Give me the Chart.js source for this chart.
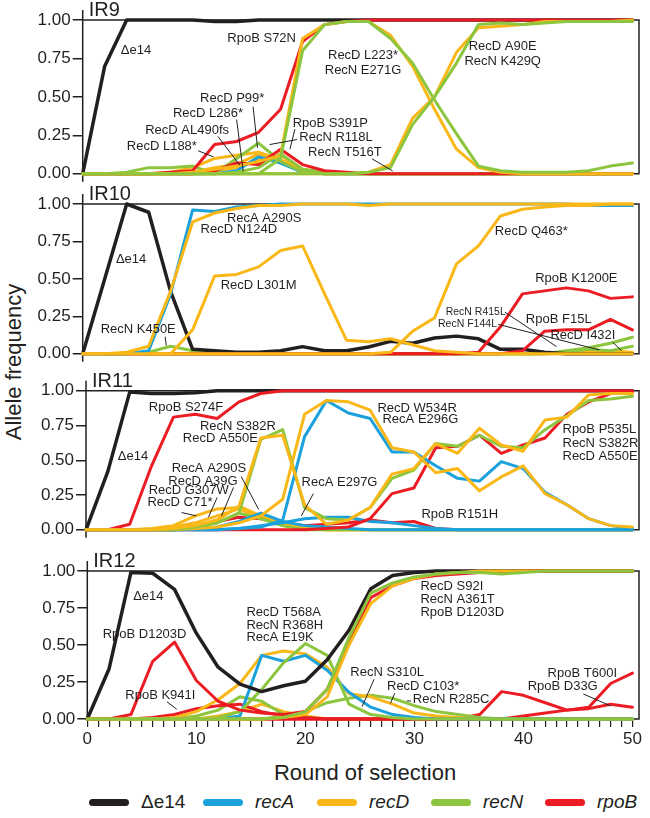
<!DOCTYPE html>
<html>
<head>
<meta charset="utf-8">
<script src="https://cdn.jsdelivr.net/npm/chart.js@4.4.1/dist/chart.umd.min.js"></script>
<style>
  html, body { margin: 0; padding: 0; background: #fff; }
  #fig { position: relative; width: 650px; height: 818px; font-family: "Liberation Sans", Arial, sans-serif; color: #231f20; overflow: hidden; }
  #ytitle { position: absolute; left: 14px; top: 362px; transform: translate(-50%, -50%) rotate(-90deg); font-size: 22px; white-space: nowrap; }
  #xtitle { position: absolute; left: 365px; top: 773px; transform: translate(-50%, -50%); font-size: 22px; white-space: nowrap; }
  #legend { position: absolute; left: 89px; top: 802px; transform: translateY(-50%); display: flex; align-items: center; font-size: 19px; white-space: nowrap; }
  #legend .sw { width: 40px; height: 7px; border-radius: 3.5px; margin-right: 12px; }
  #legend .lab { width: 62px; }
  #legend i { font-style: italic; }
</style>
</head>
<body>
<div id="fig">
  <div id="ytitle">Allele frequency</div>
  <div id="xtitle">Round of selection</div>
  <div id="legend"></div>
</div>
<script>
'use strict';

// Sampling rounds shared by every panel
const ROUNDS = [0, 2, 4, 6, 8, 10, 12, 14, 16, 18, 20, 22, 24, 26, 28, 30, 32, 34, 36, 38, 40, 42, 44, 46, 48, 50];

// ---- IR9 ----
const ir9_e14        = [0, 0.70, 1, 1, 1, 1, 0.99, 0.99, 1, 1, 1, 1, 1, 1, 1, 1, 1, 1, 1, 1, 1, 1, 1, 1, 1, 1];
const ir9_rpoB_S72N  = [0, 0, 0, 0, 0.01, 0.02, 0.19, 0.21, 0.27, 0.42, 0.86, 0.97, 0.99, 1, 1, 1, 1, 1, 1, 1, 1, 1, 1, 1, 1, 1];
const ir9_rpoB_S391P = [0, 0, 0, 0, 0, 0, 0.02, 0.07, 0.06, 0.16, 0.06, 0.02, 0.01, 0, 0, 0, 0, 0, 0, 0, 0, 0, 0, 0, 0, 0];
const ir9_recD_L188  = [0, 0, 0, 0, 0.01, 0.04, 0.10, 0.12, 0.14, 0.09, 0.03, 0.01, 0, 0, 0, 0, 0, 0, 0, 0, 0, 0, 0, 0, 0, 0];
const ir9_recD_AL490 = [0, 0, 0, 0, 0, 0.01, 0.04, 0.06, 0.13, 0.07, 0.02, 0, 0, 0, 0, 0, 0, 0, 0, 0, 0, 0, 0, 0, 0, 0];
const ir9_recD_L286  = [0, 0, 0, 0, 0, 0, 0.02, 0.04, 0.09, 0.12, 0.03, 0, 0, 0, 0, 0, 0, 0, 0, 0, 0, 0, 0, 0, 0, 0];
const ir9_recA_small = [0, 0, 0, 0, 0, 0, 0, 0.02, 0.11, 0.07, 0.01, 0, 0, 0, 0, 0, 0, 0, 0, 0, 0, 0, 0, 0, 0, 0];
const ir9_recN_R118L = [0, 0, 0.01, 0.04, 0.04, 0.05, 0, 0.10, 0.20, 0.08, 0.01, 0, 0, 0, 0, 0, 0, 0, 0, 0, 0, 0, 0, 0, 0, 0];
const ir9_recN_T516T = [0, 0, 0, 0, 0, 0, 0, 0.01, 0.04, 0.13, 0.03, 0.01, 0, 0, 0, 0, 0, 0, 0, 0, 0, 0, 0, 0, 0, 0];
const ir9_recD_L223  = [0, 0, 0, 0, 0, 0.01, 0.03, 0.05, 0.08, 0.12, 0.88, 0.97, 0.99, 0.99, 0.90, 0.70, 0.42, 0.16, 0.04, 0.01, 0, 0, 0, 0, 0, 0];
const ir9_recN_E271G = [0, 0, 0, 0, 0, 0, 0, 0, 0, 0.10, 0.80, 0.97, 0.99, 0.99, 0.88, 0.72, 0.48, 0.26, 0.05, 0.02, 0.01, 0.01, 0.01, 0.02, 0.05, 0.07];
const ir9_recD_A90E  = [0, 0, 0, 0, 0, 0, 0, 0, 0, 0, 0, 0, 0, 0.01, 0.06, 0.36, 0.50, 0.79, 0.95, 0.96, 0.97, 0.99, 0.99, 0.99, 0.99, 1];
const ir9_recN_K429Q = [0, 0, 0, 0, 0, 0, 0, 0, 0, 0, 0, 0, 0, 0.01, 0.04, 0.32, 0.50, 0.72, 0.97, 0.98, 0.97, 0.98, 0.99, 0.99, 0.99, 0.99];

// ---- IR10 ----
const ir10_e14         = [0, 0.50, 1, 0.945, 0.415, 0.03, 0.02, 0.01, 0.01, 0.02, 0.048, 0.02, 0.02, 0.045, 0.083, 0.07, 0.105, 0.118, 0.10, 0.03, 0.03, 0.01, 0, 0, 0, 0];
const ir10_recA_A290S  = [0, 0, 0, 0.02, 0.40, 0.96, 0.95, 0.98, 0.99, 1, 1, 1, 1, 1, 1, 1, 1, 1, 1, 1, 1, 1, 1, 0.99, 0.99, 0.99];
const ir10_recD_N124D  = [0, 0, 0.01, 0.05, 0.42, 0.88, 0.94, 0.97, 0.99, 0.99, 1, 1, 1, 0.99, 1, 1, 1, 1, 1, 1, 1, 1, 1, 1, 1, 1];
const ir10_recD_L301M  = [0, 0, 0, 0, 0, 0.16, 0.52, 0.53, 0.58, 0.69, 0.72, 0.40, 0.09, 0.08, 0.10, 0.06, 0.02, 0.01, 0, 0, 0, 0, 0, 0, 0, 0];
const ir10_recD_Q463   = [0, 0, 0, 0, 0, 0, 0, 0, 0, 0, 0, 0, 0, 0, 0.01, 0.15, 0.24, 0.60, 0.72, 0.92, 0.965, 0.98, 0.99, 0.99, 1, 1];
const ir10_recD_I432I  = [0, 0, 0, 0, 0, 0, 0, 0, 0, 0, 0, 0, 0, 0, 0, 0, 0, 0, 0, 0, 0, 0, 0.01, 0.01, 0.02, 0.01];
const ir10_rpoB_K1200E = [0, 0, 0, 0, 0, 0, 0, 0, 0, 0, 0, 0, 0, 0, 0, 0, 0, 0, 0.01, 0.18, 0.40, 0.42, 0.44, 0.42, 0.37, 0.38];
const ir10_rpoB_F15L   = [0, 0, 0, 0, 0, 0, 0, 0, 0, 0, 0, 0, 0, 0, 0, 0, 0, 0, 0, 0, 0.02, 0.15, 0.16, 0.16, 0.23, 0.16];
const ir10_recN_K450E  = [0, 0, 0, 0.01, 0.05, 0.02, 0.01, 0, 0, 0, 0, 0, 0, 0, 0, 0, 0, 0, 0, 0, 0, 0, 0, 0, 0, 0];
const ir10_recN_R415L  = [0, 0, 0, 0, 0, 0, 0, 0, 0, 0, 0, 0, 0, 0, 0, 0, 0, 0, 0, 0, 0, 0, 0.02, 0.04, 0.07, 0.11];
const ir10_recN_F144L  = [0, 0, 0, 0, 0, 0, 0, 0, 0, 0, 0, 0, 0, 0, 0, 0, 0, 0, 0, 0, 0, 0, 0.01, 0.03, 0.02, 0.05];

// ---- IR11 ----
const ir11_e14         = [0, 0.42, 0.99, 0.98, 0.98, 0.985, 1, 1, 1, 1, 1, 1, 1, 1, 1, 1, 1, 1, 1, 1, 1, 1, 1, 1, 1, 1];
const ir11_rpoB_S274F  = [0, 0, 0.04, 0.46, 0.81, 0.83, 0.80, 0.92, 0.98, 1, 1, 1, 1, 1, 1, 1, 1, 1, 1, 1, 1, 1, 1, 1, 1, 1];
const ir11_rpoB_R151H  = [0, 0, 0, 0, 0, 0.02, 0.06, 0.09, 0.08, 0.05, 0.03, 0.04, 0.05, 0.07, 0.05, 0.06, 0.01, 0, 0, 0, 0, 0, 0, 0, 0, 0];
const ir11_rpoB_P535L  = [0, 0, 0, 0, 0, 0, 0, 0, 0, 0, 0, 0.01, 0.02, 0.08, 0.26, 0.30, 0.59, 0.60, 0.68, 0.55, 0.61, 0.66, 0.83, 0.92, 0.98, 0.99];
const ir11_recD_C71    = [0, 0, 0, 0.01, 0.03, 0.10, 0.15, 0.16, 0.09, 0.04, 0.01, 0, 0, 0, 0, 0, 0, 0, 0, 0, 0, 0, 0, 0, 0, 0];
const ir11_recD_G307W  = [0, 0, 0, 0, 0.02, 0.05, 0.10, 0.15, 0.08, 0.03, 0.01, 0, 0, 0, 0, 0, 0, 0, 0, 0, 0, 0, 0, 0, 0, 0];
const ir11_recD_A39G   = [0, 0, 0, 0, 0.01, 0.03, 0.07, 0.17, 0.10, 0.04, 0.02, 0, 0, 0, 0, 0, 0, 0, 0, 0, 0, 0, 0, 0, 0, 0];
const ir11_recN_small  = [0, 0, 0, 0, 0, 0.02, 0.05, 0.12, 0.08, 0.03, 0, 0, 0, 0, 0, 0, 0, 0, 0, 0, 0, 0, 0, 0, 0, 0];
const ir11_recA_A290S  = [0, 0, 0, 0, 0, 0.01, 0.02, 0.06, 0.12, 0.06, 0.03, 0.02, 0.01, 0, 0, 0, 0, 0, 0, 0, 0, 0, 0, 0, 0, 0];
const ir11_recA_E297G  = [0, 0, 0, 0, 0, 0, 0, 0.01, 0.03, 0.05, 0.08, 0.09, 0.09, 0.06, 0.05, 0.03, 0.01, 0, 0, 0, 0, 0, 0, 0, 0, 0];
const ir11_recA_E296G  = [0, 0, 0, 0, 0, 0, 0, 0.01, 0.02, 0.07, 0.67, 0.93, 0.84, 0.80, 0.56, 0.56, 0.46, 0.37, 0.35, 0.49, 0.44, 0.27, 0.18, 0.08, 0.03, 0.01];
const ir11_recD_W534R  = [0, 0, 0, 0, 0, 0.01, 0.02, 0.05, 0.10, 0.22, 0.83, 0.93, 0.92, 0.86, 0.59, 0.56, 0.41, 0.44, 0.28, 0.38, 0.46, 0.26, 0.18, 0.08, 0.03, 0.02];
const ir11_recN_S382R  = [0, 0, 0, 0, 0, 0.02, 0.05, 0.12, 0.65, 0.72, 0.16, 0.08, 0.07, 0.16, 0.37, 0.43, 0.62, 0.60, 0.68, 0.60, 0.59, 0.72, 0.82, 0.93, 0.94, 0.96];
const ir11_recD_A550E  = [0, 0, 0, 0, 0.01, 0.03, 0.07, 0.17, 0.66, 0.68, 0.18, 0.04, 0.07, 0.16, 0.40, 0.44, 0.62, 0.55, 0.73, 0.61, 0.565, 0.79, 0.81, 0.97, 0.98, 0.98];

// ---- IR12 ----
const ir12_e14         = [0, 0.34, 0.99, 0.985, 0.876, 0.58, 0.35, 0.236, 0.185, 0.225, 0.255, 0.40, 0.60, 0.88, 0.97, 0.99, 1, 1, 1, 1, 1, 1, 1, 1, 1, 1];
const ir12_rpoB_D1203D = [0, 0, 0.03, 0.39, 0.52, 0.26, 0.12, 0.06, 0.04, 0.03, 0.05, 0.20, 0.52, 0.82, 0.90, 0.95, 0.97, 0.98, 0.99, 0.99, 1, 1, 1, 1, 1, 1];
const ir12_rpoB_K941I  = [0, 0, 0, 0.01, 0.03, 0.07, 0.09, 0.10, 0.05, 0.02, 0.01, 0, 0, 0, 0, 0, 0, 0, 0, 0, 0, 0, 0, 0, 0, 0];
const ir12_rpoB_T600I  = [0, 0, 0, 0, 0, 0, 0, 0, 0, 0, 0, 0, 0, 0, 0, 0, 0, 0, 0.03, 0.185, 0.16, 0.11, 0.06, 0.08, 0.24, 0.31];
const ir12_rpoB_D33G   = [0, 0, 0, 0, 0, 0, 0, 0, 0, 0, 0, 0, 0, 0, 0, 0, 0, 0, 0, 0, 0.02, 0.04, 0.06, 0.07, 0.10, 0.08];
const ir12_recD_small  = [0, 0, 0, 0, 0, 0, 0.02, 0.05, 0.10, 0.05, 0.02, 0, 0, 0, 0, 0, 0, 0, 0, 0, 0, 0, 0, 0, 0, 0];
const ir12_recN_small  = [0, 0, 0, 0, 0, 0.02, 0.06, 0.15, 0.12, 0.03, 0.01, 0, 0, 0, 0, 0, 0, 0, 0, 0, 0, 0, 0, 0, 0, 0];
const ir12_recD_T568A  = [0, 0, 0, 0, 0.01, 0.05, 0.13, 0.24, 0.43, 0.46, 0.44, 0.35, 0.17, 0.15, 0.10, 0.04, 0.02, 0.01, 0, 0, 0, 0, 0, 0, 0, 0];
const ir12_recA_E19K   = [0, 0, 0, 0, 0, 0, 0, 0.02, 0.43, 0.39, 0.43, 0.33, 0.18, 0.08, 0.03, 0.01, 0, 0, 0, 0, 0, 0, 0, 0, 0, 0];
const ir12_recN_R368H  = [0, 0, 0, 0, 0, 0, 0.01, 0.05, 0.20, 0.38, 0.51, 0.43, 0.10, 0.03, 0.01, 0, 0, 0, 0, 0, 0, 0, 0, 0, 0, 0];
const ir12_recN_S310L  = [0, 0, 0, 0, 0, 0, 0, 0, 0, 0.02, 0.05, 0.11, 0.14, 0.16, 0.14, 0.09, 0.05, 0.03, 0.01, 0, 0, 0, 0, 0, 0, 0];
const ir12_recD_S92I   = [0, 0, 0, 0, 0, 0, 0, 0, 0, 0.01, 0.03, 0.15, 0.50, 0.78, 0.90, 0.95, 0.98, 0.99, 1, 1, 1, 1, 1, 1, 1, 1];
const ir12_recN_A361T  = [0, 0, 0, 0, 0, 0, 0, 0, 0, 0.01, 0.05, 0.20, 0.55, 0.85, 0.92, 0.96, 0.98, 0.99, 0.99, 0.98, 0.99, 1, 1, 1, 1, 1];

const GENE_COLORS = { e14: '#231f20', recA: '#1ba1dc', recD: '#f9b818', recN: '#8cc63e', rpoB: '#ec1c24' };
const LEGEND = [['e14', 'Δe14', false], ['recA', 'recA', true], ['recD', 'recD', true], ['recN', 'recN', true], ['rpoB', 'rpoB', true]];
const INK = '#231f20';
const FONT = '"Liberation Sans", Arial, sans-serif';
const X_MAX = 50.6;

// Panels: series listed in paint order (first = bottom)
const PANELS = [
  {
    title: 'IR9', top: 0, height: 186, padTop: 20, padBottom: 11.5, left: 82.7,
    series: [
      ['recD', ir9_recD_L188], ['recD', ir9_recD_AL490], ['recD', ir9_recD_L286], ['recA', ir9_recA_small],
      ['recN', ir9_recN_R118L], ['recN', ir9_recN_T516T], ['rpoB', ir9_rpoB_S391P],
      ['e14', ir9_e14], ['rpoB', ir9_rpoB_S72N],
      ['recD', ir9_recD_L223], ['recN', ir9_recN_E271G], ['recD', ir9_recD_A90E], ['recN', ir9_recN_K429Q]
    ],
    notes: [
      { t: ['Δe14'], r: 4.85, f: 0.805 },
      { t: ['RpoB S72N'], r: 19.4, f: 0.88, a: 'right' },
      { t: ['RecD L223*', 'RecN E271G'], r: 25.5, f: 0.77, lh: 15 },
      { t: ['RecD A90E', 'RecN K429Q'], r: 38.2, f: 0.827, lh: 14.5 },
      { t: ['RecD P99*'], r: 13.6, f: 0.49 },
      { t: ['RecD L286*'], r: 11.4, f: 0.39 },
      { t: ['RecD AL490fs'], r: 9.5, f: 0.283 },
      { t: ['RecD L188*'], r: 7.2, f: 0.18 },
      { t: ['RpoB S391P'], r: 19.1, f: 0.33, a: 'left' },
      { t: ['RecN R118L'], r: 19.7, f: 0.234, a: 'left' },
      { t: ['RecN T516T'], r: 20.5, f: 0.141, a: 'left' }
    ],
    leaders: [[10.5, 0.15, 11.9, 0.11], [12.3, 0.243, 14.3, 0.055], [14.0, 0.353, 14.6, 0.016], [15.5, 0.436, 15.9, 0.17],
              [19.3, 0.29, 18.85, 0.16], [19.5, 0.223, 17.0, 0.19], [26.3, 0.098, 28.2, 0.018]]
  },
  {
    title: 'IR10', top: 186, height: 180, padTop: 18, padBottom: 9.3, left: 82.7,
    series: [
      ['recN', ir10_recN_K450E], ['recD', ir10_recD_I432I], ['recN', ir10_recN_F144L], ['recN', ir10_recN_R415L],
      ['e14', ir10_e14], ['rpoB', ir10_rpoB_F15L], ['rpoB', ir10_rpoB_K1200E],
      ['recD', ir10_recD_L301M], ['recA', ir10_recA_A290S], ['recD', ir10_recD_N124D], ['recD', ir10_recD_Q463]
    ],
    notes: [
      { t: ['Δe14'], r: 4.4, f: 0.633 },
      { t: ['RecA A290S'], r: 16.5, f: 0.906 },
      { t: ['RecD N124D'], r: 14.2, f: 0.83 },
      { t: ['RecD L301M'], r: 16.0, f: 0.458 },
      { t: ['RecN K450E'], r: 5.05, f: 0.164 },
      { t: ['RecD Q463*'], r: 40.8, f: 0.82 },
      { t: ['RpoB K1200E'], r: 44.9, f: 0.50 },
      { t: ['RpoB F15L'], r: 43.3, f: 0.23 },
      { t: ['RecD I432I'], r: 45.5, f: 0.12 },
      { t: ['RecN R415L'], r: 35.75, f: 0.278, size: 10.5 },
      { t: ['RecN F144L'], r: 35.0, f: 0.196, size: 10.5 }
    ],
    leaders: [[7.5, 0.114, 7.6, 0.055], [38.4, 0.278, 43.1, 0.048], [37.8, 0.196, 47.0, 0.026], [48.2, 0.077, 49.0, 0.022]]
  },
  {
    title: 'IR11', top: 366, height: 176, padTop: 24.7, padBottom: 3.7, left: 86,
    series: [
      ['rpoB', ir11_rpoB_R151H], ['recD', ir11_recD_C71], ['recD', ir11_recD_G307W], ['recD', ir11_recD_A39G],
      ['recN', ir11_recN_small], ['recA', ir11_recA_A290S], ['recA', ir11_recA_E297G],
      ['e14', ir11_e14], ['rpoB', ir11_rpoB_S274F], ['rpoB', ir11_rpoB_P535L],
      ['recA', ir11_recA_E296G], ['recD', ir11_recD_W534R], ['recN', ir11_recN_S382R], ['recD', ir11_recD_A550E]
    ],
    notes: [
      { t: ['Δe14'], r: 4.3, f: 0.53 },
      { t: ['RpoB S274F'], r: 9.15, f: 0.88 },
      { t: ['RecN S382R'], r: 13.9, f: 0.745 },
      { t: ['RecD A550E'], r: 12.3, f: 0.655 },
      { t: ['RecA A290S'], r: 11.25, f: 0.44 },
      { t: ['RecD A39G'], r: 10.7, f: 0.35 },
      { t: ['RecD G307W'], r: 9.4, f: 0.28 },
      { t: ['RecD C71*'], r: 8.6, f: 0.196 },
      { t: ['RecA E297G'], r: 23.2, f: 0.339 },
      { t: ['RecD W534R'], r: 30.3, f: 0.874 },
      { t: ['RecA E296G'], r: 30.6, f: 0.79 },
      { t: ['RpoB R151H'], r: 34.2, f: 0.11 },
      { t: ['RpoB P535L', 'RecN S382R', 'RecD A550E'], r: 43.6, f: 0.722, a: 'left', lh: 13.6 }
    ],
    leaders: [[8.75, 0.124, 10.1, 0.10], [12.0, 0.232, 11.2, 0.09], [13.5, 0.305, 12.4, 0.10], [14.2, 0.383, 15.8, 0.146], [20.8, 0.26, 19.7, 0.10]]
  },
  {
    title: 'IR12', top: 542, height: 215, padTop: 29, padBottom: 0, left: 87.3, showX: true,
    series: [
      ['recD', ir12_recD_small], ['recN', ir12_recN_small], ['rpoB', ir12_rpoB_K941I], ['rpoB', ir12_rpoB_D33G], ['rpoB', ir12_rpoB_T600I],
      ['recN', ir12_recN_S310L], ['recD', ir12_recD_T568A], ['recA', ir12_recA_E19K], ['recN', ir12_recN_R368H],
      ['e14', ir12_e14], ['rpoB', ir12_rpoB_D1203D], ['recD', ir12_recD_S92I], ['recN', ir12_recN_A361T]
    ],
    notes: [
      { t: ['Δe14'], r: 5.6, f: 0.826 },
      { t: ['RpoB D1203D'], r: 5.25, f: 0.572 },
      { t: ['RpoB K941I'], r: 6.7, f: 0.158 },
      { t: ['RecD T568A', 'RecN R368H', 'RecA E19K'], r: 14.6, f: 0.72, a: 'left', lh: 12.5 },
      { t: ['RecD S92I', 'RecN A361T', 'RpoB D1203D'], r: 30.55, f: 0.894, a: 'left', lh: 12.7 },
      { t: ['RecN S310L'], r: 27.5, f: 0.313 },
      { t: ['RecD C103*'], r: 30.8, f: 0.218 },
      { t: ['RecN R285C'], r: 29.85, f: 0.133, a: 'left' },
      { t: ['RpoB T600I'], r: 45.4, f: 0.309 },
      { t: ['RpoB D33G'], r: 43.6, f: 0.218 }
    ],
    leaders: [[7.3, 0.117, 8.2, 0.066], [26.3, 0.268, 25.2, 0.083], [28.2, 0.174, 27.8, 0.106], [29.3, 0.122, 29.7, 0.122], [45.5, 0.169, 48.0, 0.088]]
  }
];

Chart.defaults.font.family = FONT;
Chart.defaults.color = INK;

// Frame, title, mutation labels and leader lines for one panel
function makeDeco(p) {
  return {
    id: 'deco' + p.title,
    beforeDatasetsDraw(chart) {
      const { ctx, chartArea: a } = chart;
      ctx.save();
      ctx.strokeStyle = INK;
      ctx.lineWidth = 1.5;
      ctx.beginPath();
      ctx.moveTo(a.left, a.top);
      ctx.lineTo(a.right, a.top);
      ctx.lineTo(a.right, a.bottom);
      ctx.lineTo(a.left, a.bottom);
      ctx.moveTo(a.left, a.top - 10);
      ctx.lineTo(a.left, a.bottom + (p.showX ? 0 : 8));
      ctx.stroke();
      ctx.fillStyle = INK;
      ctx.font = '20px ' + FONT;
      ctx.textAlign = 'left';
      ctx.textBaseline = 'alphabetic';
      ctx.fillText(p.title, a.left + 6, a.top - 4);
      ctx.restore();
    },
    afterDatasetsDraw(chart) {
      const { ctx, scales: { x, y } } = chart;
      ctx.save();
      ctx.strokeStyle = INK;
      ctx.lineWidth = 1;
      p.leaders.forEach(([r1, f1, r2, f2]) => {
        ctx.beginPath();
        ctx.moveTo(x.getPixelForValue(r1), y.getPixelForValue(f1));
        ctx.lineTo(x.getPixelForValue(r2), y.getPixelForValue(f2));
        ctx.stroke();
      });
      ctx.fillStyle = INK;
      ctx.textBaseline = 'middle';
      p.notes.forEach(n => {
        ctx.font = (n.size || 13) + 'px ' + FONT;
        ctx.textAlign = n.a || 'center';
        const px = x.getPixelForValue(n.r);
        const py = y.getPixelForValue(n.f);
        n.t.forEach((line, i) => ctx.fillText(line, px, py + i * (n.lh || 14)));
      });
      ctx.restore();
    }
  };
}

function buildPanel(p) {
  const canvas = document.createElement('canvas');
  canvas.width = 650;
  canvas.height = p.height;
  canvas.style.cssText = 'position:absolute;left:0;top:' + p.top + 'px;width:650px;height:' + p.height + 'px';
  document.getElementById('fig').appendChild(canvas);

  const datasets = p.series.map(([gene, vals], i) => ({
    data: vals.map((v, k) => ({ x: ROUNDS[k], y: v })),
    borderColor: GENE_COLORS[gene],
    borderWidth: gene === 'e14' ? 3.5 : 3,
    order: -i,
    clip: 8
  }));

  new Chart(canvas, {
    type: 'line',
    data: { datasets },
    options: {
      responsive: false,
      animation: false,
      events: [],
      layout: { padding: { top: p.padTop, bottom: p.padBottom, left: 0, right: 11 } },
      elements: {
        point: { radius: 0 },
        line: { tension: 0, fill: false, borderJoinStyle: 'round', borderCapStyle: 'round' }
      },
      plugins: { legend: { display: false }, tooltip: { enabled: false } },
      scales: {
        x: {
          type: 'linear',
          min: 0,
          max: X_MAX,
          display: !!p.showX,
          border: { display: false },
          grid: { drawOnChartArea: false, drawTicks: true, tickLength: 8, color: INK, lineWidth: 1.2 },
          ticks: {
            autoSkip: false,
            maxRotation: 0,
            padding: 2,
            font: { size: 17 },
            callback: v => (v % 10 === 0 ? String(v) : '')
          },
          afterBuildTicks: s => { s.ticks = Array.from({ length: 51 }, (_, i) => ({ value: i })); },
          afterFit: s => { s.height = p.showX ? 38 : 0; }
        },
        y: {
          min: 0,
          max: 1,
          border: { display: false },
          grid: { drawOnChartArea: false, drawTicks: true, tickLength: 10, color: INK, lineWidth: 1.5 },
          ticks: { stepSize: 0.25, padding: 2, font: { size: 17 }, callback: v => v.toFixed(2) },
          afterFit: s => { s.width = p.left; }
        }
      }
    },
    plugins: [makeDeco(p)]
  });
}

PANELS.forEach(buildPanel);

// Legend
const legend = document.getElementById('legend');
LEGEND.forEach(([gene, label, italic]) => {
  const sw = document.createElement('div');
  sw.className = 'sw';
  sw.style.background = GENE_COLORS[gene];
  const lab = document.createElement('div');
  lab.className = 'lab';
  lab.innerHTML = italic ? '<i>' + label + '</i>' : label;
  legend.appendChild(sw);
  legend.appendChild(lab);
});
</script>
</body>
</html>
